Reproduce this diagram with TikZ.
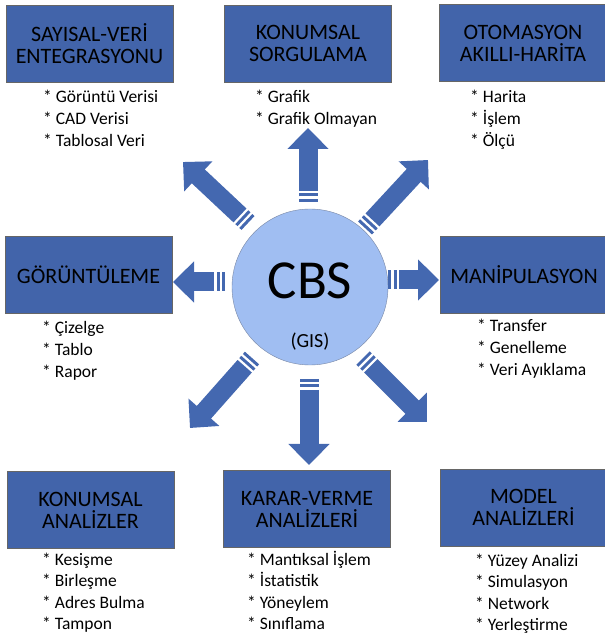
\documentclass[tikz,border=0pt]{standalone}
\usepackage{fontspec}
\setmainfont{Carlito}
\usepackage{tikz}
\usetikzlibrary{arrows.meta}
\definecolor{boxblue}{RGB}{66,100,170}
\definecolor{arrowblue}{RGB}{68,104,176}
\definecolor{hubblue}{RGB}{160,190,242}
\definecolor{hubline}{RGB}{120,135,165}

\begin{document}
\begin{tikzpicture}[x=1pt, y=1pt,
    box/.style={draw=black!60, fill=boxblue, minimum width=167pt, minimum height=77pt, align=center, inner sep=0pt, font=\fontsize{22}{22}\selectfont},
    items/.style={anchor=base west, align=left, inner sep=0pt, font=\fontsize{17.5}{21.6}\selectfont},
    hub/.style={circle, draw=hubline, fill=hubblue, minimum size=156pt, inner sep=0pt},
    blockarrow/.style={draw=arrowblue, line width=19pt, -{Triangle[length=21pt, width=40pt]}, dash pattern=on 3pt off 2.5pt on 3pt off 2.5pt on 500pt}
]
\useasboundingbox (0,0) rectangle (605,638);

% Center
\node[hub] (cbs) at (310,351) {};
\node[font=\fontsize{55}{55}\selectfont] (cbstext) at (310,357) {CBS};
\node[font=\fontsize{20}{20}\selectfont] (gistext) at (310,296) {(GIS)};

% Boxes
\node[box] (sayisal) at (89.5,594.5) {SAYISAL-VERİ\\ENTEGRASYONU};
\node[box] (sorgu) at (308,594.5) {KONUMSAL\\SORGULAMA};
\node[box] (otomasyon) at (523,595) {OTOMASYON\\AKILLI-HARİTA};
\node[box] (goruntu) at (88.5,363) {GÖRÜNTÜLEME};
\node[box] (manip) at (524,363.5) {MANİPULASYON};
\node[box] (konanaliz) at (90.5,128) {KONUMSAL\\ANALİZLER};
\node[box] (karar) at (307,129) {KARAR-VERME\\ANALİZLERİ};
\node[box] (model) at (523.5,130.5) {MODEL\\ANALİZLERİ};

% Item lists (base = last line)
\node[items] (sayisalitems) at (43,491.8) {* Görüntü Verisi\\* CAD Verisi\\* Tablosal Veri};
\node[items] (sorguitems) at (255,513.4) {* Grafik\\* Grafik Olmayan};
\node[items] (otomasyonitems) at (470,491.8) {* Harita\\* İşlem\\* Ölçü};
\node[items] (goruntuitems) at (42,260.8) {* Çizelge\\* Tablo\\* Rapor};
\node[items] (manipitems) at (477,262.8) {* Transfer\\* Genelleme\\* Veri Ayıklama};
\node[items] (konanalizitems) at (42,8.2) {* Kesişme\\* Birleşme\\* Adres Bulma\\* Tampon};
\node[items] (kararitems) at (247,8.2) {* Mantıksal İşlem\\* İstatistik\\* Yöneylem\\* Sınıflama};
\node[items] (modelitems) at (475,7.2) {* Yüzey Analizi\\* Simulasyon\\* Network\\* Yerleştirme};

% Arrows
\foreach \nm/\tx/\ty/\hx/\hy in {up/308/436/308/510, down/309/259/309/173, left/225/356/173/356, right/388/358/439/358,
    upleft/248/415/183/476, upright/365/410/428/478, downleft/252/280/190/210, downright/363/280/427/216} {
    \coordinate (\nm-tail) at (\tx,\ty);
    \coordinate (\nm-tip) at (\hx,\hy);
    \draw[blockarrow] (\nm-tail) -- (\nm-tip);
}

\end{tikzpicture}
\end{document}
